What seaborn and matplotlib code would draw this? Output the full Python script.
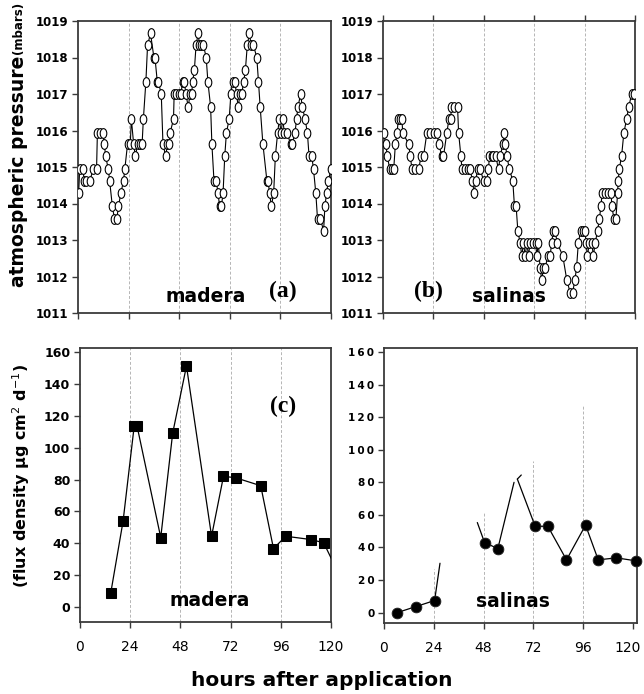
import numpy as np
import pandas as pd
import seaborn as sns
import matplotlib
matplotlib.use("Agg")
import matplotlib.pyplot as plt
from matplotlib.path import Path
from matplotlib.transforms import ScaledTranslation

# ---------------- data ----------------
hours_madera_p = [0.3, 0.8, 2.4, 2.9, 4.0, 5.6, 7.2, 8.8, 9.2, 10.4, 11.7, 12.5, 13.1, 14.4, 15.0,
                  16.3, 17.3, 18.4, 19.2, 20.3, 21.6, 22.2, 23.5, 24.8, 25.3, 26.4, 27.2, 28.3, 29.3,
                  30.4, 31.0, 32.2, 33.0, 34.4, 36.0, 36.5, 37.6, 38.1, 39.5, 40.3, 41.6, 42.4, 43.2,
                  43.7, 45.3, 45.6, 46.7, 47.7, 48.8, 49.6, 50.4, 51.2, 52.3, 53.1, 53.9, 54.4, 55.2,
                  56.0, 57.0, 57.6, 58.4, 59.5, 60.8, 61.6, 62.9, 63.5, 64.5, 65.6, 66.4, 67.2, 68.0,
                  68.8, 69.6, 70.4, 71.7, 72.5, 73.3, 74.4, 75.2, 76.0, 76.8, 77.6, 78.6, 79.4, 80.3,
                  81.3, 82.1, 83.2, 84.8, 85.6, 86.4, 87.7, 89.6, 90.1, 90.9, 91.7, 92.8, 93.6, 94.7,
                  95.5, 96.3, 97.1, 97.9, 99.2, 100.8, 101.6, 102.9, 103.7, 104.3, 105.6, 106.4, 107.7,
                  108.8, 109.6, 110.9, 111.7, 112.8, 113.6, 114.9, 116.5, 117.1, 117.9, 118.7, 120.0]
press_madera = [1014.28, 1014.94, 1014.94, 1014.62, 1014.62, 1014.62, 1014.94, 1014.94, 1015.94, 1015.94,
                1015.94, 1015.63, 1015.29, 1014.94, 1014.62, 1013.92, 1013.58, 1013.58, 1013.92, 1014.28,
                1014.62, 1014.94, 1015.63, 1015.63, 1016.31, 1015.63, 1015.29, 1015.63, 1015.63, 1015.63,
                1016.31, 1017.34, 1018.34, 1018.66, 1018.00, 1018.00, 1017.34, 1017.34, 1016.99, 1015.63,
                1015.29, 1015.63, 1015.63, 1015.94, 1016.31, 1016.99, 1016.99, 1016.99, 1016.99, 1017.34,
                1017.34, 1016.99, 1016.65, 1016.99, 1016.99, 1017.34, 1017.66, 1018.34, 1018.66, 1018.34,
                1018.34, 1018.34, 1018.00, 1017.34, 1016.65, 1015.63, 1014.62, 1014.62, 1014.28, 1013.92,
                1013.92, 1014.28, 1015.29, 1015.94, 1016.31, 1016.99, 1017.34, 1017.34, 1016.99, 1016.65,
                1016.99, 1016.99, 1017.34, 1017.66, 1018.34, 1018.66, 1018.34, 1018.34, 1018.00, 1017.34,
                1016.65, 1015.63, 1014.62, 1014.62, 1014.28, 1013.92, 1014.28, 1015.29, 1015.94, 1016.31,
                1015.94, 1016.31, 1015.94, 1015.94, 1015.63, 1015.63, 1015.94, 1016.31, 1016.65, 1016.99,
                1016.65, 1016.31, 1015.94, 1015.29, 1015.29, 1014.94, 1014.28, 1013.58, 1013.58, 1013.26,
                1013.92, 1014.28, 1014.62, 1014.94]

hours_salinas_p = [0.3, 1.3, 2.1, 3.2, 4.1, 5.1, 5.9, 6.7, 7.3, 8.2, 9.0, 9.4, 12.2, 13.0, 13.8, 15.4,
                   17.0, 18.1, 19.3, 20.9, 22.5, 24.1, 25.7, 26.5, 28.1, 28.8, 30.4, 31.4, 32.3, 32.5,
                   33.9, 35.5, 36.0, 37.1, 37.6, 39.1, 40.7, 41.5, 42.6, 43.4, 44.2, 45.0, 46.3, 47.9,
                   49.4, 50.2, 50.7, 51.8, 52.6, 53.7, 55.0, 55.8, 57.1, 57.8, 58.3, 59.0, 60.2, 61.8,
                   62.6, 63.4, 64.2, 65.3, 66.1, 66.9, 67.7, 68.5, 69.3, 70.0, 71.6, 72.7, 73.2, 74.0,
                   74.8, 75.6, 76.4, 77.3, 78.4, 79.6, 80.3, 81.1, 81.9, 83.0, 85.6, 87.5, 89.1, 90.3,
                   91.4, 92.2, 93.0, 94.1, 95.4, 96.2, 96.7, 97.3, 98.3, 99.4, 100.2, 101.0, 102.2,
                   103.0, 103.8, 104.3, 105.7, 107.3, 108.6, 109.0, 110.0, 110.9, 111.7, 112.0, 112.5,
                   113.6, 114.7, 116.0, 117.0, 118.4, 119.5]
press_salinas = [1015.94, 1015.63, 1015.29, 1014.94, 1014.94, 1014.94, 1015.63, 1015.94, 1016.31, 1016.31,
                 1016.31, 1015.94, 1015.63, 1015.29, 1014.94, 1014.94, 1014.94, 1015.29, 1015.29, 1015.94,
                 1015.94, 1015.94, 1015.94, 1015.63, 1015.29, 1015.29, 1015.94, 1016.31, 1016.31, 1016.65,
                 1016.65, 1016.65, 1015.94, 1015.29, 1014.94, 1014.94, 1014.94, 1014.94, 1014.62, 1014.28,
                 1014.62, 1014.94, 1014.94, 1014.62, 1014.62, 1014.94, 1015.29, 1015.29, 1015.29, 1015.29,
                 1014.94, 1015.29, 1015.63, 1015.94, 1015.63, 1015.29, 1014.94, 1014.62, 1013.92, 1013.92,
                 1013.26, 1012.91, 1012.57, 1012.91, 1012.57, 1012.91, 1012.57, 1012.91, 1012.91, 1012.91,
                 1012.57, 1012.91, 1012.23, 1011.91, 1012.23, 1012.23, 1012.57, 1012.57, 1012.91, 1013.26,
                 1013.26, 1012.91, 1012.57, 1011.91, 1011.56, 1011.56, 1011.91, 1012.26, 1012.91, 1013.26,
                 1013.26, 1013.26, 1012.91, 1012.57, 1012.91, 1012.91, 1012.57, 1012.91, 1013.26, 1013.57,
                 1013.92, 1014.28, 1014.28, 1014.28, 1014.28, 1013.92, 1013.57, 1013.57, 1014.28, 1014.62,
                 1014.94, 1015.29, 1015.94, 1016.31, 1016.65, 1016.99, 1016.99]

hours_madera_f = [14.7, 20.6, 25.9, 27.3, 38.6, 44.3, 50.9, 62.9, 68.6, 74.4, 86.4, 92.5, 98.4,
                  110.6, 116.5, 124.0]
flux_madera = [8.8, 53.9, 113.4, 113.4, 43.6, 109.0, 151.2, 44.4, 82.0, 81.1, 76.1, 36.7, 44.4,
               42.3, 40.3, 20.0]

hours_salinas_f = [6.4, 15.4, 24.4, 48.5, 54.9, 72.9, 79.0, 88.0, 97.2, 103.3, 112.1, 121.4]
flux_salinas = [0.0, 3.7, 7.4, 43.0, 39.3, 53.0, 53.0, 32.4, 53.7, 32.4, 33.6, 31.8]

# line pieces of the salinas flux trace (as drawn in the original)
seg1_x = [4.8, 6.4, 15.4, 24.4, 27.0]
seg1_y = [-1.2, 0.0, 3.7, 7.4, 30.3]
seg2_x = [45.0, 48.5, 54.9, 62.7]
seg2_y = [55.3, 43.0, 39.3, 80.0]
seg3_x = [64.3, 66.2]
seg3_y = [82.0, 84.5]
seg4_x = [64.3, 72.9, 79.0, 88.0, 97.2, 103.3, 112.1, 121.4]
seg4_y = [82.0, 53.0, 53.0, 32.4, 53.7, 32.4, 33.6, 31.8]

grid_hours = [24, 48, 72, 96]
grid_top_salinas_flux = [27, 61, 93, 127]
x_ticks = [0, 24, 48, 72, 96, 120]
p_ticks = [1011, 1012, 1013, 1014, 1015, 1016, 1017, 1018, 1019]
f_ticks = [0, 20, 40, 60, 80, 100, 120, 140, 160]

# ---------------- style ----------------
sns.set_style("ticks")
plt.rcParams["font.family"] = ["DejaVu Sans"]
plt.rcParams["axes.linewidth"] = 1.3
plt.rcParams["axes.edgecolor"] = "#3a3a3a"
plt.rcParams["text.color"] = "black"
plt.rcParams["xtick.color"] = "#3a3a3a"
plt.rcParams["ytick.color"] = "#3a3a3a"
plt.rcParams["xtick.labelcolor"] = "black"
plt.rcParams["ytick.labelcolor"] = "black"

W, H = 644, 694
fig = plt.figure(figsize=(W / 100, H / 100), dpi=100)


def add_ax(l, t, r, b):
    return fig.add_axes([l / W, 1 - b / H, (r - l) / W, (b - t) / H])


ax_a = add_ax(78, 21, 331, 313)
ax_b = add_ax(383, 21, 635, 313)
ax_c = add_ax(80, 348, 331, 622)
ax_d = add_ax(384, 348, 637, 623)

circ = Path.unit_circle()
ellipse = Path(circ.vertices * np.array([0.68, 1.0]), circ.codes)

grid_kw = dict(color="#b5b5b5", lw=0.7, ls=(0, (3, 2)), zorder=0)

for ax, hrs, prs in [(ax_a, hours_madera_p, press_madera), (ax_b, hours_salinas_p, press_salinas)]:
    for g in grid_hours:
        ax.axvline(g, **grid_kw)
    df = pd.DataFrame({"h": hrs, "p": prs})
    sns.lineplot(data=df, x="h", y="p", ax=ax, estimator=None, sort=False, color="black",
                 lw=0.8, marker=ellipse, markersize=7, markerfacecolor="white",
                 markeredgecolor="black", markeredgewidth=0.8, zorder=3)
    ax.set_xlim(0, 120)
    ax.set_ylim(1011, 1019)
    ax.set_xticks(x_ticks)
    ax.set_xticklabels([])
    ax.set_yticks(p_ticks)
    ax.set_yticklabels([str(v) for v in p_ticks], fontsize=8.5, fontweight="bold")
    ax.tick_params(axis="both", direction="out", length=4, width=1, pad=3)
    ax.set_xlabel("")
    ax.set_ylabel("")

ax_b.tick_params(axis="x", top=True)

# panel c
for g in grid_hours:
    ax_c.axvline(g, **grid_kw)
dfc = pd.DataFrame({"h": hours_madera_f, "f": flux_madera})
sns.lineplot(data=dfc, x="h", y="f", ax=ax_c, estimator=None, sort=False, color="black",
             lw=0.9, marker="s", markersize=6.5, markerfacecolor="black",
             markeredgecolor="black", zorder=3)
ax_c.set_xlim(0, 120)
ax_c.set_ylim(-9.4, 162.5)
ax_c.set_yticks(f_ticks)
ax_c.set_yticklabels([str(v) for v in f_ticks], fontsize=9, fontweight="bold")

# panel d
for g, top in zip(grid_hours, grid_top_salinas_flux):
    ax_d.vlines(g, -6.4, top, colors="#b5b5b5", lw=0.7, linestyles=(0, (3, 2)), zorder=0)
for sx, sy in [(seg1_x, seg1_y), (seg2_x, seg2_y), (seg3_x, seg3_y), (seg4_x, seg4_y)]:
    sns.lineplot(x=sx, y=sy, ax=ax_d, estimator=None, sort=False, color="black", lw=0.9, zorder=2)
sns.scatterplot(x=hours_salinas_f, y=flux_salinas, ax=ax_d, color="black", s=60,
                edgecolor="#222222", linewidth=0.6, zorder=3, clip_on=False)
ax_d.set_xlim(0, 122)
ax_d.set_ylim(-6.4, 162.5)
ax_d.set_yticks(f_ticks)
ax_d.set_yticklabels(["\u2009".join(str(v)) for v in f_ticks], fontsize=7.5, fontweight="bold")

for ax in (ax_c, ax_d):
    ax.set_xticks(x_ticks)
    ax.set_xticklabels([str(v) for v in x_ticks], fontsize=10)
    ax.tick_params(axis="y", direction="out", length=4, width=1, pad=3)
    ax.tick_params(axis="x", direction="out", length=4, width=1, pad=9)
    ax.set_xlabel("")
    ax.set_ylabel("")

# nudge the last x tick label of panel d so it stays inside the figure
last_lbl = ax_d.get_xticklabels()[-1]
last_lbl.set_transform(last_lbl.get_transform() + ScaledTranslation(-3.5 / 72, 0, fig.dpi_scale_trans))

# ---------------- texts ----------------
def ftext(px, py, s, **kw):
    fig.text(px / W, 1 - py / H, s, **kw)


sans_b = dict(fontweight="bold", family="DejaVu Sans")
serif_b = dict(fontweight="bold", family="Liberation Serif")

ftext(206, 302, "madera", fontsize=13.5, ha="center", va="baseline", **sans_b)
ftext(283, 297, "(a)", fontsize=17, ha="center", va="baseline", **serif_b)
ftext(428, 297, "(b)", fontsize=17, ha="center", va="baseline", **serif_b)
ftext(509, 302, "salinas", fontsize=13.5, ha="center", va="baseline", **sans_b)
ftext(283, 412, "(c)", fontsize=17, ha="center", va="baseline", **serif_b)
ftext(210, 606, "madera", fontsize=13.5, ha="center", va="baseline", **sans_b)
ftext(513, 607, "salinas", fontsize=13.5, ha="center", va="baseline", **sans_b)

ftext(19, 171, "atmospheric pressure", fontsize=13.5, rotation=90, ha="center", va="center", **sans_b)
ftext(19, 28, "(mbars)", fontsize=8.5, rotation=90, ha="center", va="center", **sans_b)
ftext(21, 476, "(flux density µg cm$^{2}$ d$^{-1}$)", fontsize=11.5, rotation=90,
      ha="center", va="center", **sans_b)
ftext(322, 680, "hours after application", fontsize=14.5, ha="center", va="center", **sans_b)

fig.savefig("out.png", dpi=100)
